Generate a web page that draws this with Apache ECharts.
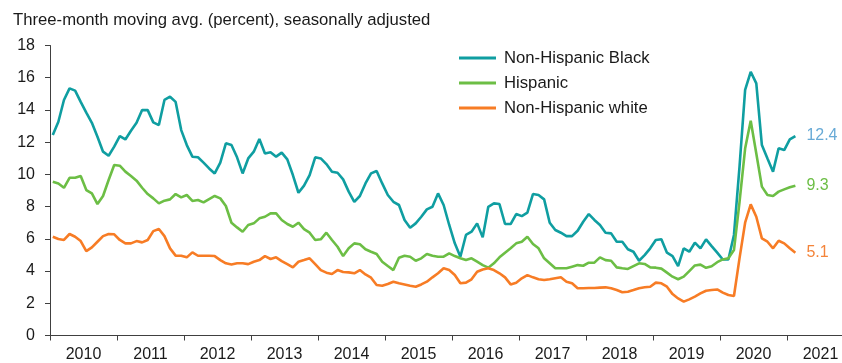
<!DOCTYPE html>
<html>
<head>
<meta charset="utf-8">
<script src="https://cdn.jsdelivr.net/npm/echarts@6/dist/echarts.min.js"></script>
<style>
  html, body { margin: 0; padding: 0; background: #ffffff; }
  #chart { width: 842px; height: 363px; }
</style>
</head>
<body>
<div id="chart"></div>
<script>
// Monthly observations, Jan 2010 – Feb 2021 (three-month moving averages, %)
const years = ['2010','2011','2012','2013','2014','2015','2016','2017','2018','2019','2020','2021'];
const yTicks = [0, 2, 4, 6, 8, 10, 12, 14, 16, 18];
const seriesNames = ['Non-Hispanic Black', 'Hispanic', 'Non-Hispanic white'];

const black = [
  12.44, 13.27, 14.62, 15.34, 15.2, 14.5, 13.83, 13.2, 12.34, 11.41, 11.16, 11.72, 12.38, 12.17, 12.71, 13.2, 14.0, 13.99, 13.23, 13.06, 14.62, 14.82, 14.5,
  12.75, 11.82, 11.1, 11.06, 10.73, 10.37, 10.06, 10.73, 11.93, 11.82, 11.06, 10.06, 10.99, 11.41, 12.2, 11.3, 11.37, 11.1, 11.35, 10.93, 9.96, 8.86, 9.3,
  9.96, 11.06, 10.99, 10.64, 10.17, 10.1, 9.69, 8.93, 8.3, 8.66, 9.44, 10.06, 10.21, 9.44, 8.72, 8.3, 8.1, 7.17, 6.69, 6.96, 7.37, 7.83,
  7.99, 8.82, 8.1, 6.86, 5.72, 4.89, 6.24, 6.44, 6.96, 6.09, 7.99, 8.2, 8.16, 6.92, 6.92, 7.54, 7.41, 7.62, 8.78, 8.72, 8.45, 7.0, 6.55,
  6.38, 6.17, 6.17, 6.5, 7.06, 7.54, 7.17, 6.86, 6.38, 6.34, 5.82, 5.82, 5.35, 5.2, 4.64, 4.99, 5.41, 5.93, 5.97, 5.14, 4.93, 4.31, 5.41,
  5.2, 5.76, 5.41, 5.97, 5.55, 5.14, 4.72, 4.72, 6.24, 10.5, 15.24, 16.37, 15.65, 11.82, 10.99, 10.17, 11.62, 11.51, 12.17, 12.38
];
const hispanic = [
  9.55, 9.44, 9.17, 9.79, 9.79, 9.9, 9.03, 8.82, 8.16, 8.66, 9.65, 10.58, 10.54, 10.17, 9.9, 9.61, 9.17, 8.78, 8.51, 8.2, 8.37, 8.45, 8.78,
  8.57, 8.72, 8.35, 8.41, 8.26, 8.47, 8.66, 8.51, 8.04, 7.0, 6.71, 6.44, 6.86, 6.96, 7.27, 7.37, 7.58, 7.58, 7.17, 6.92, 6.75, 7.0, 6.6,
  6.38, 5.93, 5.97, 6.38, 5.93, 5.51, 4.93, 5.41, 5.72, 5.66, 5.35, 5.2, 5.06, 4.58, 4.31, 4.06, 4.83, 4.95, 4.89, 4.64, 4.79, 5.06,
  4.95, 4.89, 4.89, 5.1, 4.93, 4.79, 4.68, 4.79, 4.58, 4.37, 4.21, 4.48, 4.85, 5.14, 5.41, 5.72, 5.82, 6.13, 5.68, 5.41, 4.79, 4.48, 4.17,
  4.17, 4.17, 4.27, 4.37, 4.33, 4.52, 4.52, 4.85, 4.68, 4.64, 4.23, 4.17, 4.13, 4.31, 4.48, 4.44, 4.23, 4.21, 4.15, 3.9, 3.65, 3.49, 3.65,
  4.0, 4.35, 4.4, 4.2, 4.3, 4.55, 4.72, 4.8, 5.3, 8.3, 11.6, 13.33, 11.3, 9.24, 8.72, 8.66, 8.93, 9.07, 9.2, 9.3
];
const white = [
  6.13, 5.99, 5.93, 6.3, 6.13, 5.86, 5.24, 5.47, 5.82, 6.17, 6.3, 6.28, 5.93, 5.72, 5.72, 5.86, 5.78, 5.93, 6.48, 6.61, 6.17, 5.41, 4.96,
  4.95, 4.85, 5.16, 4.95, 4.95, 4.95, 4.93, 4.68, 4.48, 4.41, 4.48, 4.48, 4.43, 4.58, 4.68, 4.93, 4.75, 4.85, 4.62, 4.43, 4.23, 4.58, 4.68,
  4.79, 4.43, 4.06, 3.9, 3.82, 4.06, 3.94, 3.92, 3.86, 4.06, 3.79, 3.59, 3.13, 3.09, 3.2, 3.34, 3.24, 3.17, 3.09, 3.03, 3.17, 3.34,
  3.61, 3.86, 4.17, 4.06, 3.75, 3.24, 3.28, 3.49, 3.96, 4.1, 4.17, 4.06, 3.86, 3.61, 3.17, 3.28, 3.55, 3.75, 3.61, 3.49, 3.44, 3.49, 3.55,
  3.61, 3.34, 3.24, 2.93, 2.93, 2.95, 2.95, 2.97, 2.99, 2.93, 2.82, 2.68, 2.72, 2.82, 2.93, 2.99, 3.03, 3.28, 3.24, 3.03, 2.57, 2.3, 2.1,
  2.24, 2.41, 2.61, 2.78, 2.82, 2.86, 2.66, 2.51, 2.45, 4.8, 7.0, 8.14, 7.37, 6.03, 5.82, 5.41, 5.88, 5.72, 5.41, 5.14
];

const FONT = '"Liberation Sans", Arial, sans-serif';
const TEXT = '#1a1a1a';
const AXIS = '#404040';
const colors = ['#0f9ea1', '#6cbe45', '#f77c25'];
const labelColors = ['#68aad6', '#6cbe45', '#f4843a'];

// month index -> position at middle of the month on a monthly value axis
const toPoints = arr => arr.map((v, i) => [i + 0.5, v]);
// visible part of the time axis, in months from Jan 2010 (axis runs off the right edge)
const axisEndMonths = 141.85;

const chart = echarts.init(document.getElementById('chart'), null, { renderer: 'canvas' });

function lineSeries(name, arr, idx) {
  return {
    name: name,
    type: 'line',
    xAxisIndex: 0,
    data: toPoints(arr),
    showSymbol: false,
    symbol: 'none',
    animation: false,
    lineStyle: { width: 2.6, color: colors[idx] },
    itemStyle: { color: colors[idx] },
    endLabel: {
      show: true,
      distance: 11,
      formatter: p => p.value[1].toFixed(1),
      color: labelColors[idx],
      fontSize: 16,
      fontFamily: FONT
    }
  };
}

chart.setOption({
  animation: false,
  title: {
    text: 'Three-month moving avg. (percent), seasonally adjusted',
    left: 13, top: 12, padding: 0,
    textStyle: { fontSize: 16.7, fontWeight: 'normal', color: TEXT, fontFamily: FONT }
  },
  legend: {
    orient: 'vertical',
    left: 459, top: 49, padding: 0,
    itemWidth: 37, itemHeight: 3,
    itemGap: 7,
    icon: 'rect',
    textStyle: { fontSize: 16.7, color: TEXT, fontFamily: FONT, lineHeight: 18, padding: [0, 0, 0, 3] },
    data: seriesNames
  },
  grid: { left: 50, right: 0, top: 45.5, bottom: 27.5, containLabel: false },
  xAxis: [
    {
      type: 'value', min: 0, max: axisEndMonths, interval: 6,
      position: 'bottom',
      axisLine: { show: true, lineStyle: { color: AXIS, width: 1 } },
      axisTick: { show: false },
      splitLine: { show: false },
      axisLabel: {
        margin: 11, fontSize: 16, color: TEXT, fontFamily: FONT,
        showMinLabel: false, showMaxLabel: false,
        formatter: v => (v % 12 === 6 ? years[(v - 6) / 12] : '')
      }
    },
    {
      type: 'value', min: 0, max: axisEndMonths, interval: 12,
      position: 'bottom',
      axisLine: { show: false },
      axisTick: {
        show: true, length: 5, lineStyle: { color: AXIS, width: 1 }
      },
      splitLine: { show: false },
      axisLabel: { show: false }
    }
  ],
  yAxis: {
    type: 'value', min: yTicks[0], max: yTicks[yTicks.length - 1], interval: 2,
    axisLine: { show: true, lineStyle: { color: AXIS, width: 1 } },
    axisTick: { show: true, length: 5, lineStyle: { color: AXIS, width: 1 } },
    splitLine: { show: false },
    axisLabel: { margin: 15, fontSize: 16, color: TEXT, fontFamily: FONT }
  },
  series: [
    lineSeries(seriesNames[0], black, 0),
    lineSeries(seriesNames[1], hispanic, 1),
    lineSeries(seriesNames[2], white, 2)
  ]
});
</script>
</body>
</html>
